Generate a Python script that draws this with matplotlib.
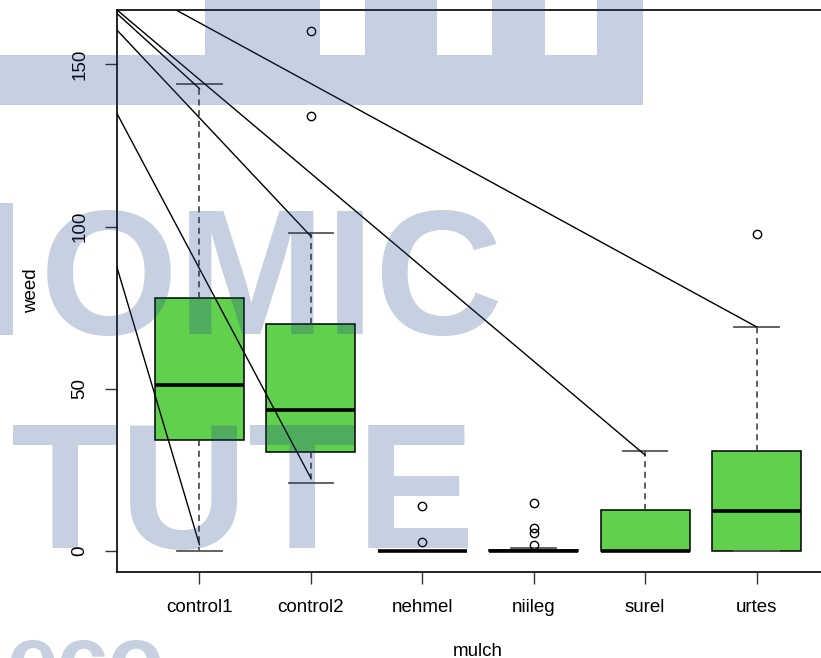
import matplotlib
matplotlib.use('Agg')
import matplotlib.pyplot as plt
from matplotlib.patches import Rectangle

plt.rcParams['font.family'] = ['Liberation Sans', 'DejaVu Sans']

# Box summaries per mulch group.
groups = ['control1', 'control2', 'nehmel', 'niileg', 'surel', 'urtes']
q1 = [34.1, 30.5, 0.0, 0.0, 0.0, 0.0]
medians = [51.1, 43.4, 0.0, 0.0, 0.0, 12.4]
q3 = [78.0, 69.9, 0.0, 0.5, 12.7, 30.9]
whisk_lo = [0.0, 20.9, 0.0, 0.0, 0.0, 0.0]
whisk_hi = [144.0, 97.9, 0.0, 1.0, 30.9, 69.1]
outliers = [[], [160.3, 134.0], [13.9, 2.9], [14.9, 7.0, 5.5, 2.0], [], [97.8]]

# Straight lines drawn over the plot: start (x, y) and end (x, y).
line_x0 = [0.26, 0.26, 0.26, 0.26, 0.26, 0.79]
line_y0 = [166.7, 165.6, 160.5, 134.8, 87.4, 166.7]
line_x1 = [5.0, 1.0, 2.0, 2.0, 1.0, 6.0]
line_y1 = [29.6, 142.5, 97.0, 22.5, 2.0, 69.1]

W, H = 821, 658
fig = plt.figure(figsize=(W / 100, H / 100), dpi=100)
# plot region runs past the right edge of the image, like the original crop
ax = fig.add_axes([117 / W, 1 - 572 / H, (839 - 117) / W, (572 - 10) / H])

stats = []
for i, name in enumerate(groups):
    stats.append(dict(label=name, q1=q1[i], med=medians[i], q3=q3[i],
                      whislo=whisk_lo[i], whishi=whisk_hi[i],
                      fliers=outliers[i]))

ax.bxp(stats, positions=range(1, len(groups) + 1), widths=0.8,
       patch_artist=True,
       boxprops=dict(facecolor='#61D04F', edgecolor='black', linewidth=1.1),
       medianprops=dict(color='black', linewidth=2.6, solid_capstyle='butt'),
       whiskerprops=dict(color='#333333', linestyle=(0, (4, 3)), linewidth=1.1),
       capprops=dict(color='#555555', linewidth=1.3),
       flierprops=dict(marker='o', markerfacecolor='none',
                       markeredgecolor='black', markersize=6,
                       markeredgewidth=1))

for i in range(len(line_x0)):
    ax.plot([line_x0[i], line_x1[i]], [line_y0[i], line_y1[i]],
            color='black', linewidth=1)

ax.set_xlim(0.26, 6.74)
ax.set_ylim(-6.41, 166.7)
ax.set_yticks([0, 50, 100, 150])
ax.set_xticks(range(1, len(groups) + 1))
ax.set_xticklabels(groups)
ax.tick_params(axis='both', length=8.5, width=1, color='#333333',
               labelsize=13.5)
ax.tick_params(axis='x', pad=11)
ax.tick_params(axis='y', pad=12)
for lbl in ax.get_yticklabels():
    lbl.set_rotation(90)
    lbl.set_va('center')

for side in ['left', 'bottom', 'top']:
    ax.spines[side].set_linewidth(1.2)
    ax.spines[side].set_color('black')
ax.spines['right'].set_visible(False)

ax.set_xlabel('mulch', fontsize=13.5)
ax.xaxis.set_label_coords(0.5, -(652 - 572) / 562)
ax.xaxis.label.set_va('center')
ax.set_ylabel('weed', fontsize=13.5)
ax.yaxis.set_label_coords(-85 / 722, 0.5)
ax.yaxis.label.set_va('center')

# Watermark lying over the chart.
wm_color = '#1f4488'
wm_alpha = 0.25
wm = dict(family='Liberation Sans', weight='bold', color=wm_color,
          alpha=wm_alpha, ha='left', va='baseline', zorder=5)
fig.text(40 / W, 1 - 334 / H, 'OMIC', fontsize=128, **wm)
fig.text(11 / W, 1 - 548 / H, 'TUTE', fontsize=128, **wm)
fig.text(6 / W, 1 - 690 / H, 'eco', fontsize=66, **wm)

# watermark pieces cut by the image edges (x0, x1, y_top, y_bottom in px)
wm_blocks = [(0, 643, 55, 105), (205, 320, 0, 55), (365, 437, 0, 55),
             (492, 545, 0, 55), (597, 643, 0, 55), (0, 13, 203, 335)]
for x0, x1, yt, yb in wm_blocks:
    fig.add_artist(Rectangle((x0 / W, 1 - yb / H), (x1 - x0) / W, (yb - yt) / H,
                             transform=fig.transFigure, facecolor=wm_color,
                             edgecolor='none', alpha=wm_alpha, zorder=5))

fig.savefig('out.png', dpi=100)
